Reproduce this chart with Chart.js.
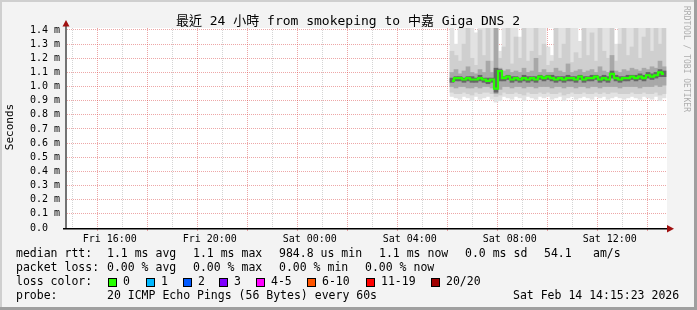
<!DOCTYPE html>
<html>
<head>
<meta charset="utf-8">
<script src="https://cdn.jsdelivr.net/npm/chart.js@4.4.1/dist/chart.umd.min.js"></script>
<style>
  html, body { margin: 0; padding: 0; background: #f3f3f3; }
</style>
</head>
<body>
<canvas id="myChart" width="697" height="310"></canvas>
<script>
// time axis is in hours since Fri 00:00
const viewStart = 14.29;
const viewEnd = 38.29;
const hourTicks = [15,16,17,18,19,20,21,22,23,24,25,26,27,28,29,30,31,32,33,34,35,36,37,38];
const dayLabels = {16: 'Fri 16:00', 20: 'Fri 20:00', 24: 'Sat 00:00', 28: 'Sat 04:00', 32: 'Sat 08:00', 36: 'Sat 12:00'};
const yTicks = [0, 0.1, 0.2, 0.3, 0.4, 0.5, 0.6, 0.7, 0.8, 0.9, 1.0, 1.1, 1.2, 1.3, 1.4];

// median rtt (ms), one value per column from Sat 05:41
const median = [
  1.04,1.06,1.06,1.05,1.06,1.05,1.05,1.06,1.05,1.04,
  1.05,0.985,1.11,1.06,1.07,1.05,1.06,1.05,1.06,1.05,
  1.06,1.05,1.07,1.06,1.07,1.06,1.05,1.06,1.05,1.06,
  1.06,1.05,1.07,1.05,1.06,1.06,1.07,1.05,1.06,1.05,
  1.09,1.06,1.05,1.06,1.06,1.07,1.06,1.07,1.06,1.08,
  1.07,1.08,1.10,1.09
];

// smoke bands, outer (lightest) to inner (darkest)
const lo1 = [
  0.93,0.92,0.91,0.93,0.92,0.90,0.93,0.91,0.92,0.93,
  0.91,0.89,0.90,0.93,0.92,0.91,0.93,0.92,0.90,0.93,
  0.92,0.91,0.93,0.92,0.93,0.91,0.92,0.93,0.90,0.92,
  0.93,0.91,0.92,0.93,0.92,0.91,0.93,0.92,0.93,0.91,
  0.92,0.93,0.92,0.91,0.92,0.93,0.92,0.91,0.93,0.92,
  0.91,0.93,0.90,0.92
];
const hi1 = [
  1.45,1.30,1.45,1.45,1.45,1.45,1.38,1.45,1.45,1.45,
  1.45,1.45,1.25,1.45,1.45,1.45,1.45,1.35,1.45,1.45,
  1.45,1.45,1.45,1.45,1.28,1.22,1.45,1.45,1.45,1.45,
  1.45,1.45,1.32,1.45,1.45,1.45,1.45,1.45,1.45,1.45,
  1.45,1.30,1.45,1.45,1.45,1.45,1.45,1.45,1.45,1.45,
  1.45,1.45,1.45,1.45
];
const lo2 = [
  0.96,0.95,0.95,0.96,0.95,0.94,0.96,0.95,0.96,0.96,
  0.95,0.93,0.94,0.96,0.95,0.95,0.96,0.95,0.94,0.96,
  0.95,0.95,0.96,0.95,0.96,0.95,0.95,0.96,0.94,0.95,
  0.96,0.95,0.95,0.96,0.95,0.95,0.96,0.95,0.96,0.95,
  0.96,0.96,0.95,0.95,0.95,0.96,0.95,0.95,0.96,0.95,
  0.95,0.96,0.94,0.95
];
const hi2 = [
  1.25,1.22,1.18,1.30,1.45,1.20,1.15,1.40,1.22,1.45,
  1.18,1.45,1.20,1.28,1.45,1.16,1.35,1.20,1.45,1.18,
  1.25,1.45,1.22,1.30,1.15,1.18,1.45,1.20,1.30,1.45,
  1.17,1.24,1.20,1.45,1.22,1.38,1.18,1.45,1.25,1.20,
  1.45,1.18,1.30,1.45,1.22,1.28,1.45,1.20,1.35,1.45,
  1.25,1.45,1.30,1.45
];
const lo3 = [
  1.00,0.99,1.00,1.00,0.99,0.99,1.00,0.99,1.00,1.00,
  0.99,0.95,0.98,1.00,1.00,0.99,1.00,1.00,0.99,1.00,
  1.00,0.99,1.00,1.00,1.00,0.99,1.00,1.00,0.99,1.00,
  1.00,0.99,1.00,1.00,0.99,1.00,1.00,0.99,1.00,1.00,
  1.00,1.00,0.99,1.00,1.00,1.00,1.00,0.99,1.00,1.00,
  1.00,1.01,1.00,1.01
];
const hi3 = [
  1.10,1.12,1.09,1.11,1.14,1.10,1.09,1.12,1.10,1.18,
  1.10,1.45,1.13,1.11,1.12,1.10,1.11,1.10,1.13,1.10,
  1.11,1.20,1.10,1.12,1.10,1.10,1.13,1.11,1.10,1.16,
  1.10,1.11,1.12,1.10,1.11,1.12,1.10,1.14,1.11,1.10,
  1.22,1.11,1.10,1.12,1.11,1.13,1.12,1.11,1.13,1.12,
  1.14,1.13,1.18,1.14
];
const lo4 = [
  1.03,1.04,1.04,1.03,1.04,1.03,1.03,1.04,1.03,1.02,
  1.03,0.96,1.04,1.04,1.05,1.03,1.04,1.03,1.04,1.03,
  1.04,1.03,1.05,1.04,1.05,1.04,1.03,1.04,1.03,1.04,
  1.04,1.03,1.05,1.03,1.04,1.04,1.05,1.03,1.04,1.03,
  1.06,1.04,1.03,1.04,1.04,1.05,1.04,1.05,1.04,1.06,
  1.05,1.06,1.07,1.07
];
const hi4 = [
  1.06,1.07,1.07,1.06,1.07,1.07,1.06,1.08,1.06,1.06,
  1.06,1.13,1.12,1.07,1.08,1.07,1.07,1.06,1.08,1.07,
  1.07,1.07,1.08,1.07,1.08,1.08,1.07,1.07,1.07,1.08,
  1.07,1.07,1.08,1.07,1.07,1.08,1.08,1.07,1.08,1.07,
  1.11,1.08,1.07,1.07,1.08,1.08,1.08,1.09,1.08,1.10,
  1.09,1.10,1.12,1.11
];

const firstSlot = 29.69; // Sat 05:41
const slotStep = 0.16;   // hours per column
const slotHours = median.map((_, i) => firstSlot + i * slotStep);

const lossColors = ['#26ff00', '#00b8ff', '#0059ff', '#7e00ff', '#ff00ff', '#ff5500', '#ff0000', '#a00000'];
const lossLabels = ['0', '1', '2', '3', '4-5', '6-10', '11-19', '20/20'];

const redGrid = 'rgba(215,60,60,0.45)';
const greyGrid = '#d4d4d4';
const mono = "'DejaVu Sans Mono', monospace";

function band(lo, hi, color, order) {
  return {
    type: 'bar',
    data: slotHours.map((h, i) => ({x: h, y: [lo[i], hi[i]]})),
    backgroundColor: color,
    borderWidth: 0,
    grouped: false,
    barPercentage: 1,
    categoryPercentage: 1,
    order: order
  };
}

const frame = {
  id: 'frame',
  beforeDraw(chart) {
    const {ctx, chartArea: a} = chart;
    ctx.save();
    ctx.fillStyle = '#f3f3f3';
    ctx.fillRect(0, 0, 697, 310);
    ctx.fillStyle = '#cfcfcf';
    ctx.fillRect(0, 0, 697, 2);
    ctx.fillRect(0, 0, 2, 310);
    ctx.fillStyle = '#9f9f9f';
    ctx.fillRect(0, 307, 697, 3);
    ctx.fillRect(694, 0, 3, 310);
    ctx.fillStyle = '#ffffff';
    ctx.fillRect(a.left, a.top, a.right - a.left, a.bottom - a.top);
    ctx.restore();
  },
  afterDraw(chart) {
    const ctx = chart.ctx;
    ctx.save();
    // axes and arrows
    ctx.fillStyle = '#737373';
    ctx.fillRect(65, 24, 2, 205);
    ctx.fillStyle = '#000';
    ctx.fillRect(63, 228, 605, 1.5);
    ctx.fillStyle = '#a01010';
    ctx.beginPath();
    ctx.moveTo(66, 20); ctx.lineTo(69.5, 26.5); ctx.lineTo(62.5, 26.5); ctx.closePath();
    ctx.fill();
    ctx.beginPath();
    ctx.moveTo(667, 225); ctx.lineTo(674, 228.7); ctx.lineTo(667, 232.4); ctx.closePath();
    ctx.fill();

    // title
    ctx.fillStyle = '#000';
    ctx.textBaseline = 'middle';
    ctx.textAlign = 'center';
    ctx.font = "13px 'DejaVu Sans Mono', 'Noto Sans CJK TC', monospace";
    ctx.fillText('最近 24 小時 from smokeping to 中嘉 Giga DNS 2', 348, 22);

    // vertical labels
    ctx.save();
    ctx.font = '11px ' + mono;
    ctx.textBaseline = 'alphabetic';
    ctx.translate(13, 127);
    ctx.rotate(-Math.PI / 2);
    ctx.fillText('Seconds', 0, 0);
    ctx.restore();

    ctx.save();
    ctx.font = '8px ' + mono;
    ctx.fillStyle = '#adadad';
    ctx.textBaseline = 'alphabetic';
    ctx.translate(684, 59);
    ctx.rotate(Math.PI / 2);
    ctx.fillText('RRDTOOL / TOBI OETIKER', 0, 0);
    ctx.restore();

    // legend
    ctx.textAlign = 'left';
    ctx.textBaseline = 'middle';
    ctx.font = '11.5px ' + mono;
    const rows = [
      [254, [[16, 'median rtt:'], [107, '1.1 ms avg'], [193, '1.1 ms max'], [279, '984.8 us min'], [379, '1.1 ms now'], [465, '0.0 ms sd'], [544, '54.1'], [593, 'am/s']]],
      [268, [[16, 'packet loss:'], [107, '0.00 % avg'], [193, '0.00 % max'], [279, '0.00 % min'], [365, '0.00 % now']]],
      [282, [[16, 'loss color:']]],
      [296, [[16, 'probe:'], [107, '20 ICMP Echo Pings (56 Bytes) every 60s'], [513, 'Sat Feb 14 14:15:23 2026']]]
    ];
    rows.forEach(([y, items]) => items.forEach(([x, t]) => ctx.fillText(t, x, y)));
    const boxX = [108, 146, 183, 219, 256, 307, 366, 431];
    boxX.forEach((x, i) => {
      ctx.fillStyle = '#000';
      ctx.fillRect(x, 278, 9, 9);
      ctx.fillStyle = lossColors[i];
      ctx.fillRect(x + 1, 279, 7, 7);
      ctx.fillStyle = '#000';
      ctx.fillText(lossLabels[i], x + 15, 282);
    });
    ctx.restore();
  }
};

new Chart(document.getElementById('myChart'), {
  type: 'bar',
  data: {
    datasets: [
      {
        type: 'line',
        data: slotHours.map((h, i) => ({x: h, y: median[i]})),
        borderColor: '#26ff00',
        borderWidth: 2.2,
        pointRadius: 0,
        stepped: 'middle',
        order: 0
      },
      band(lo4, hi4, '#666666', 1),
      band(lo3, hi3, '#a8a8a8', 2),
      band(lo2, hi2, '#cfcfcf', 3),
      band(lo1, hi1, '#e2e2e2', 4)
    ]
  },
  options: {
    responsive: false,
    animation: false,
    layout: {padding: {top: 28, right: 30, left: 0, bottom: 0}},
    plugins: {legend: {display: false}, tooltip: {enabled: false}},
    scales: {
      x: {
        type: 'linear',
        min: viewStart,
        max: viewEnd,
        offset: false,
        z: 1,
        afterBuildTicks: s => { s.ticks = hourTicks.map(v => ({value: v})); },
        afterFit: s => { s.height = 82; },
        grid: {
          color: c => (c.tick && c.tick.value % 2 === 0) ? redGrid : greyGrid,
          tickColor: c => (c.tick && c.tick.value % 2 === 0) ? redGrid : 'rgba(0,0,0,0)',
          tickLength: 3,
          lineWidth: 1
        },
        border: {display: false, dash: [1, 1]},
        ticks: {
          callback: v => dayLabels[v] || '',
          autoSkip: false,
          maxRotation: 0,
          minRotation: 0,
          padding: 2,
          color: '#000',
          font: {family: mono, size: 10}
        }
      },
      y: {
        type: 'linear',
        min: 0,
        max: 1.4141,
        z: 1,
        afterBuildTicks: s => { s.ticks = yTicks.map(v => ({value: v})); },
        afterFit: s => { s.width = 67; },
        grid: {
          color: c => (c.tick && c.tick.value === 0) ? 'rgba(0,0,0,0)' : redGrid,
          drawTicks: false,
          lineWidth: 1
        },
        border: {display: false, dash: [1, 1]},
        ticks: {
          callback: v => v === 0 ? '0.0  ' : v.toFixed(1) + ' m',
          autoSkip: false,
          padding: 7,
          color: '#000',
          font: {family: mono, size: 10}
        }
      }
    }
  },
  plugins: [frame]
});
</script>
</body>
</html>
